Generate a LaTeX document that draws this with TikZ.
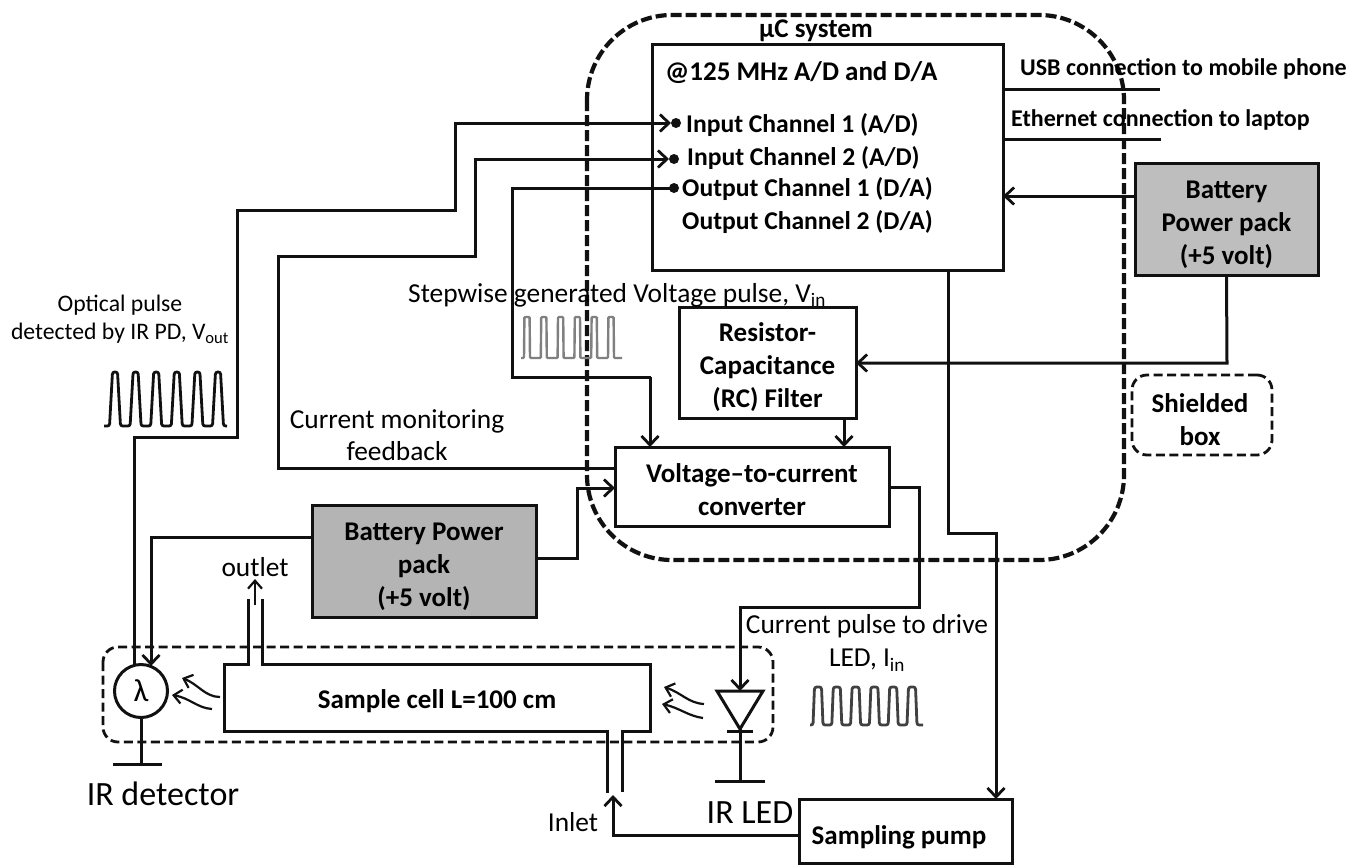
\documentclass[tikz,border=0pt]{standalone}
\usepackage{fontspec}
\setmainfont{Carlito}
\usetikzlibrary{arrows.meta,calc}
\definecolor{packgray}{HTML}{BEBEBE}
\definecolor{ink}{HTML}{111111}
\tikzset{
  wire/.style={draw=ink,line width=3pt,line join=miter},
  arrowwire/.style={wire,-{Straight Barb[length=9pt,width=17pt,line width=2.8pt]}},
  thinwire/.style={draw=ink,line width=2.2pt,-{Straight Barb[length=8pt,width=14pt,line width=2.2pt]}},
  box/.style={draw=ink,line width=3pt,outer sep=0pt,inner sep=0pt,align=center,font=\boldtxt},
  packbox/.style={box,fill=packgray},
  bigdash/.style={draw=ink,line width=4.2pt,dash pattern=on 11pt off 4pt,rounded corners=85pt},
  smalldash/.style={draw=ink,line width=2.8pt,dash pattern=on 9pt off 4.5pt,rounded corners=15pt},
  bold/.style={inner sep=0pt,align=center,font=\boldtxt},
  chan/.style={inner sep=0pt,anchor=west,font=\chantxt},
  side/.style={inner sep=0pt,anchor=west,font=\sidetxt},
  reg/.style={inner sep=0pt,align=center,font=\regtxt},
  big/.style={inner sep=0pt,align=center,font=\bigtxt},
  dot/.style={circle,fill=ink,inner sep=0pt,minimum size=10pt,outer sep=0pt},
  pulse/.style={draw=ink,line width=2.8pt,rounded corners=2.2pt}
}
\newcommand{\boldtxt}{\fontsize{27}{33}\selectfont\bfseries}
\newcommand{\chantxt}{\fontsize{25.6}{33}\selectfont\bfseries}
\newcommand{\sidetxt}{\fontsize{24}{33}\selectfont\bfseries}
\newcommand{\regtxt}{\fontsize{27.4}{33}\selectfont}
\newcommand{\bigtxt}{\fontsize{34}{36}\selectfont}
\newcommand{\lift}[1]{\rule{0pt}{#1}}
% first peak, period, half width at base, half width at top, ytop, ybase, xstart, xend, options
\newcommand{\pulsetrain}[9]{%
  \draw[pulse,#9] (#7,#6)
  \foreach \i in {0,...,5} {
    -- ({#1+\i*#2-#3},#6) -- ({#1+\i*#2-#4},#5) -- ({#1+\i*#2+#4},#5) -- ({#1+\i*#2+#3},#6)
  } -- (#8,#6);%
}
\begin{document}
\begin{tikzpicture}[x=1pt,y=-1pt]
\useasboundingbox (0,0) rectangle (1352,865);
% enclosures
\draw[bigdash] (587,15) rectangle (1124,560);
\draw[smalldash] (103,647) rectangle (773,742);
\node[smalldash,minimum width=140pt,minimum height=80pt,inner sep=0pt,outer sep=0pt] (shield) at (1202,415) {};
% boxes
\node[box,minimum width=351pt,minimum height=226pt] (mcu) at (827.5,157) {};
\node[packbox,minimum width=183pt,minimum height=112pt] (packtop) at (1226.5,219.5) {\lift{27.5pt}Battery\\Power pack\\(+5 volt)};
\node[box,minimum width=177pt,minimum height=111pt] (rc) at (767.5,362.5) {\lift{27.5pt}Resistor-\\Capacitance\\(RC) Filter};
\node[box,minimum width=274pt,minimum height=79pt] (vic) at (752,486.5) {\lift{25.5pt}Voltage--to-current\\converter};
\node[packbox,fill=packgray!95!black,minimum width=224pt,minimum height=112pt] (packlow) at (424,561) {\lift{29pt}Battery Power\\pack\\(+5 volt)};
\node[box,minimum width=213pt,minimum height=64pt] (pump) at (905.5,831) {};
% dots and detector
\node[dot] (in1) at (676,123) {};
\node[dot] (in2) at (674,159) {};
\node[dot] (out1) at (674,188) {};
\node[draw=ink,line width=3pt,circle,minimum size=53pt,inner sep=0pt,outer sep=0pt,font=\fontsize{32}{34}\selectfont] (det) at (141,691) {λ};
% free ends
\coordinate (usbend) at (1160,89);
\coordinate (ethend) at (1161,139);
\coordinate (detgnd) at (141,764);
\coordinate (ledtop) at (740,691);
\coordinate (ledtip) at (740,729);
\coordinate (ledgnd) at (740,781);
\coordinate (inletarrow) at (613,795);
\coordinate (outlettail) at (255,605);
\coordinate (outlettip) at (255,579);
% connectors
\draw[wire] (mcu.east |- usbend) -- (usbend);
\draw[wire] (mcu.east |- ethend) -- (ethend);
\draw[arrowwire] (packtop.west |- 0,196) -- (mcu.east |- 0,196);
\draw[arrowwire] (packtop.south) -- (1227,363) -- (rc.east |- 0,363);
\draw[arrowwire] (rc.south -| 844,0) -- (vic.north -| 844,0);
\draw[wire,shorten >=-1pt] (out1.center) -- (512,188) -- (512,377) -- (650,377);
\draw[arrowwire] (650,377) -- (vic.north -| 650,0);
\draw[wire] (det.north -| 134,0) -- (134,437) -- (237,437) -- (237,210) -- (455,210) -- (455,123) -- (600,123);
\draw[arrowwire] (600,123) -- (in1.west);
\draw[wire] (vic.west |- 0,468) -- (278,468) -- (278,256) -- (475,256) -- (475,159) -- (600,159);
\draw[arrowwire] (600,159) -- (in2.west);
\draw[arrowwire] (packlow.east |- 0,558) -- (577,558) -- (577,488) -- (vic.west |- 0,488);
\draw[arrowwire] (packlow.west |- 0,537) -- (151,537) -- (151,666);
\draw[arrowwire] (vic.east |- 0,487) -- (919,487) -- (919,607) -- (740,607) -- (ledtop);
\draw[arrowwire] (mcu.south -| 948,0) -- (948,533) -- (996,533) -- (pump.north -| 996,0);
\draw[arrowwire] (pump.west |- 0,835) -- (613,835) -- (inletarrow);
\draw[wire] (det.south) -- (detgnd);
\draw[wire] (113,764) -- (162,764);
\draw[wire,line join=miter] (ledtop -| 717,0) -- (763,691) -- (ledtip) -- cycle;
\draw[wire] (727,731) -- (753,731);
\draw[wire] (ledtip) -- (ledgnd);
\draw[wire] (715,781) -- (765,781);
% sample cell
\draw[wire] (248,599) -- (248,664) -- (224,664) -- (224,731) -- (607,731) -- (607,793);
\draw[wire] (262,599) -- (262,664) -- (650,664) -- (650,731) -- (622,731) -- (622,792);
\draw[thinwire] (outlettail) -- (outlettip);
% light rays
\draw[thinwire] (220,697) .. controls (205,697) and (198,684) .. (182,678);
\draw[thinwire] (212,709) .. controls (197,708) and (190,698) .. (172,695);
\draw[thinwire] (704,704) .. controls (688,703) and (682,693) .. (664,687);
\draw[thinwire] (703,718) .. controls (688,716) and (680,708) .. (662,704);
% pulse trains
\pulsetrain{115}{20.6}{5.5}{2.5}{372}{426}{104}{227}{}
\pulsetrain{527}{16.8}{3}{2.6}{317}{358}{521}{622}{draw=gray,line width=2.4pt,rounded corners=1pt}
\pulsetrain{818}{18.8}{5}{3.5}{687}{725}{810}{923}{draw=ink!80!white}
% labels
\node[bold] (lbmcu) at (816,31) {µC system};
\node[bold,anchor=west] (lbad) at (665,73) {@125 MHz A/D and D/A};
\node[chan] (lbin1) at (686,125) {Input Channel 1 (A/D)};
\node[chan] (lbin2) at (687,158) {Input Channel 2 (A/D)};
\node[chan] (lbout1) at (682,189) {Output Channel 1 (D/A)};
\node[chan] (lbout2) at (682,222) {Output Channel 2 (D/A)};
\node[side] (lbusb) at (1020,69) {USB connection to mobile phone};
\node[side] (lbeth) at (1011,120) {Ethernet connection to laptop};
\node[bold] (lbpump) at (899,837) {Sampling pump};
\node[bold] (lbcell) at (437,701) {Sample cell L=100 cm};
\node[bold] (lbshield) at (1200,420) {Shielded\\box};
\node[reg,font=\fontsize{23.7}{28}\selectfont] (lbopt) at (120,319) {Optical pulse\\detected by IR PD, V\textsubscript{out}};
\node[reg,anchor=west] (lbstep) at (408,295) {Stepwise generated Voltage pulse, V\textsubscript{in}};
\node[reg,font=\fontsize{27.4}{32}\selectfont] (lbcur) at (397,435) {Current monitoring\\feedback};
\node[reg] (lbdrive) at (867,643) {Current pulse to drive\\LED, I\textsubscript{in}};
\node[reg] (lboutlet) at (255,567) {outlet};
\node[reg] (lbinlet) at (573,822) {Inlet};
\node[big] (lbdet) at (163,794) {IR detector};
\node[big] (lbled) at (750,813) {IR LED};
\end{tikzpicture}
\end{document}
